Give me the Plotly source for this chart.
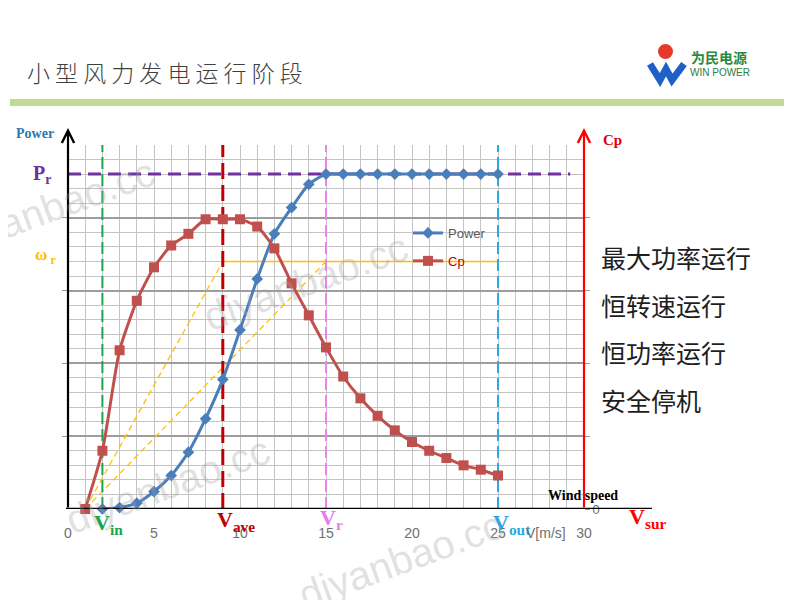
import plotly.graph_objects as go

# ---------------- data ----------------
wind_power = [2, 3, 4, 5, 6, 7, 8, 9, 10, 11, 12, 13, 14, 15, 16, 17, 18, 19, 20, 21, 22, 23, 24, 25]
power = [0, 0.1, 0.4, 1.2, 2.3, 3.9, 6.2, 8.9, 12.3, 15.8, 18.9, 20.7, 22.3, 23, 23, 23, 23, 23, 23, 23, 23, 23, 23, 23]

wind_cp = [1, 2, 3, 4, 5, 6, 7, 8, 9, 10, 11, 12, 13, 14, 15, 16, 17, 18, 19, 20, 21, 22, 23, 24, 25]
cp = [0, 4.0, 10.9, 14.3, 16.6, 18.1, 18.9, 19.9, 19.9, 19.9, 19.4, 17.9, 15.5, 13.3, 11.1, 9.1, 7.6, 6.4, 5.4, 4.6, 4.0, 3.5, 3.0, 2.7, 2.3]

v_in, v_ave, v_r, v_out, v_sur = 2, 9, 15, 25, 30
p_r = 23
omega_r = 17
omega_start = 1
y_top = 25

x_ticks = [0, 5, 10, 15, 20, 25, 30]
x_ticklabels = ["0", "5", "10", "15", "20", "25", "30"]
y_major = [5, 10, 15, 20]

stage_labels = ["最大功率运行", "恒转速运行", "恒功率运行", "安全停机"]
title_text = "小型风力发电运行阶段"

# page body has an 8px margin: figure is 792x592 placed at (8, 8)
W, H, OFF = 792, 592, 8


def px(x):
    return (x - OFF) / W


def py(y):
    return 1 - (y - OFF) / H


fig = go.Figure()

# reference lines
def add_line(xs, ys, color, width, dash, yaxis="y"):
    fig.add_trace(go.Scatter(x=xs, y=ys, mode="lines", yaxis=yaxis,
                             line=dict(color=color, width=width, dash=dash),
                             showlegend=False, hoverinfo="skip", cliponaxis=False))

add_line([omega_start, v_ave], [0, omega_r], "#ffc000", 1.3, "6px,4px")
add_line([omega_start, v_r], [0, omega_r], "#ffc000", 1.3, "6px,4px")
add_line([v_ave, v_out], [omega_r, omega_r], "#ffc000", 1.5, "solid")
add_line([0, 29.2], [p_r, p_r], "#7030a0", 3, "13px,7px")
add_line([v_in, v_in], [0, y_top], "#1aa64b", 2, "12px,5px")
add_line([v_ave, v_ave], [0, y_top], "#c00000", 3, "16px,6px")
add_line([v_r, v_r], [0, y_top], "#ee82ee", 2, "12px,5px")
add_line([v_out, v_out], [0, y_top], "#2aa8e0", 2, "12px,5px")

fig.add_trace(go.Scatter(
    x=wind_power, y=power, mode="lines+markers", name="Power",
    legendgroup="p",
    line=dict(color="#4a7ebb", width=3, shape="spline", smoothing=0.6),
    marker=dict(symbol="diamond", size=9, color="#4a7ebb"),
    cliponaxis=False))

fig.add_trace(go.Scatter(
    x=wind_cp, y=cp, mode="lines+markers", yaxis="y2",
    name="<span style='color:#c00000'>Cp</span>", legendgroup="c",
    line=dict(color="#c0504d", width=3, shape="spline", smoothing=0.6),
    marker=dict(symbol="square", size=10, color="#c0504d"),
    cliponaxis=False))

shapes = []
# green header bar
shapes.append(dict(type="rect", xref="paper", yref="paper",
                   x0=px(10), x1=px(784), y0=py(106), y1=py(99),
                   fillcolor="#c0db94", line=dict(width=0), layer="below"))
# baseline
shapes.append(dict(type="line", xref="paper", yref="y", x0=px(66), x1=px(652),
                   y0=0, y1=0, line=dict(color="black", width=2.5)))
# logo red circle
shapes.append(dict(type="circle", xref="paper", yref="paper",
                   x0=px(658), x1=px(673), y0=py(59), y1=py(44),
                   fillcolor="#e53a2a", line=dict(width=0)))
# logo W
wpts = [(650, 64), (660, 80), (666, 69), (672, 80), (684, 64)]
wpath = "M " + " L ".join(f"{px(a):.5f},{py(b):.5f}" for a, b in wpts)
shapes.append(dict(type="path", xref="paper", yref="paper", path=wpath,
                   line=dict(color="#1f5fc8", width=7)))

ann = []

def text(x, y, s, size, color, family="Liberation Serif", bold=False, xanchor="center", angle=0, weight=None):
    w = weight if weight is not None else ("bold" if bold else "normal")
    ann.append(dict(x=px(x), y=py(y), xref="paper", yref="paper", text=s,
                    showarrow=False, xanchor=xanchor, yanchor="middle", textangle=angle,
                    font=dict(size=size, color=color, family=family, weight=w)))

# axis arrows
ann.append(dict(x=0, y=py(128), xref="x", yref="paper", ax=0, ay=381, axref="pixel", ayref="pixel",
                text="", showarrow=True, arrowhead=5, arrowsize=1.1, arrowwidth=2.2, arrowcolor="black"))
ann.append(dict(x=v_sur, y=py(128), xref="x", yref="paper", ax=0, ay=381, axref="pixel", ayref="pixel",
                text="", showarrow=True, arrowhead=5, arrowsize=1.1, arrowwidth=2.2, arrowcolor="#ff0000"))

# title
text(25, 72, " ".join(title_text), 23, "#3f3f3f", family="Noto Sans CJK SC", xanchor="left", weight=300)
# logo text
text(689, 57, "为民电源", 14, "#2a8a3e", family="Noto Sans CJK SC", bold=True, xanchor="left")
text(688, 73, "WIN POWER", 10, "#2a7d3c", family="Liberation Sans", xanchor="left")

# axis labels
text(35, 133, "Power", 14, "#2e75b6", bold=True)
text(42, 175, "P<sub>r</sub>", 20, "#7030a0", bold=True)
text(45, 256, "ω<sub> r</sub>", 17, "#ffc000", bold=True)
text(612, 140, "Cp", 15, "#e00000", bold=True)
text(583, 495, "Wind speed", 14, "black", bold=True)

text(108, 524, "V<sub>in</sub>", 22, "#1aa64b", bold=True)
text(236, 521, "V<sub>ave</sub>", 22, "#c00000", bold=True)
text(331, 519, "V<sub>r</sub>", 22, "#e87be8", bold=True)
text(512, 524, "V<sub>out</sub>", 22, "#2aa8e0", bold=True)
text(647, 518, "V<sub>sur</sub>", 22, "#ff0000", bold=True)
text(546, 533, "V[m/s]", 14, "#6f6f6f", family="Liberation Sans")

# stage labels
for i, s in enumerate(stage_labels):
    text(599, 257 + i * 47.7, s, 25, "#1e1e1e", family="Noto Sans CJK SC", xanchor="left")

# watermarks
for (cx, cy) in [(52, 207), (305, 282), (167, 485), (400, 560)]:
    text(cx, cy, "diyanbao.cc", 40, "rgba(160,160,160,0.33)", family="Liberation Sans", angle=-20)

fig.update_layout(
    width=W, height=H,
    margin=dict(l=0, r=0, t=0, b=0),
    paper_bgcolor="white", plot_bgcolor="white",
    shapes=shapes, annotations=ann,
    showlegend=True,
    legend=dict(x=px(408), y=py(218), xanchor="left", yanchor="top",
                bgcolor="rgba(0,0,0,0)", tracegroupgap=8,
                font=dict(family="Liberation Sans", size=13, color="#595959")),
    xaxis=dict(domain=[px(68), px(584)], range=[0, 30], tickvals=x_ticks, ticktext=x_ticklabels,
               automargin=False,
               showgrid=True, gridcolor="#c4c4c4", gridwidth=1, zeroline=False, showline=False,
               ticks="", ticklabelstandoff=14,
               tickfont=dict(family="Liberation Sans", size=14, color="#6f6f6f"),
               minor=dict(dtick=1, tick0=0, showgrid=True, gridcolor="#c4c4c4", gridwidth=1)),
    yaxis=dict(domain=[py(509), py(145)], range=[0, 25], tickvals=y_major, showticklabels=False,
               automargin=False,
               ticks="outside", ticklen=5, tickcolor="#999999",
               showgrid=True, gridcolor="#9d9d9d", gridwidth=1.5, zeroline=False, showline=False,
               minor=dict(dtick=1, tick0=0, showgrid=True, gridcolor="#c4c4c4", gridwidth=1)),
    yaxis2=dict(overlaying="y", side="right", anchor="x", range=[0, 25],
                automargin=False,
                tickvals=[0] + y_major, ticktext=["0", "", "", "", ""],
                ticks="outside", ticklen=5, tickcolor="#999999",
                showgrid=False, zeroline=False, showline=False,
                tickfont=dict(family="Liberation Sans", size=13, color="#6f6f6f")),
)

fig.write_html("out.html")
